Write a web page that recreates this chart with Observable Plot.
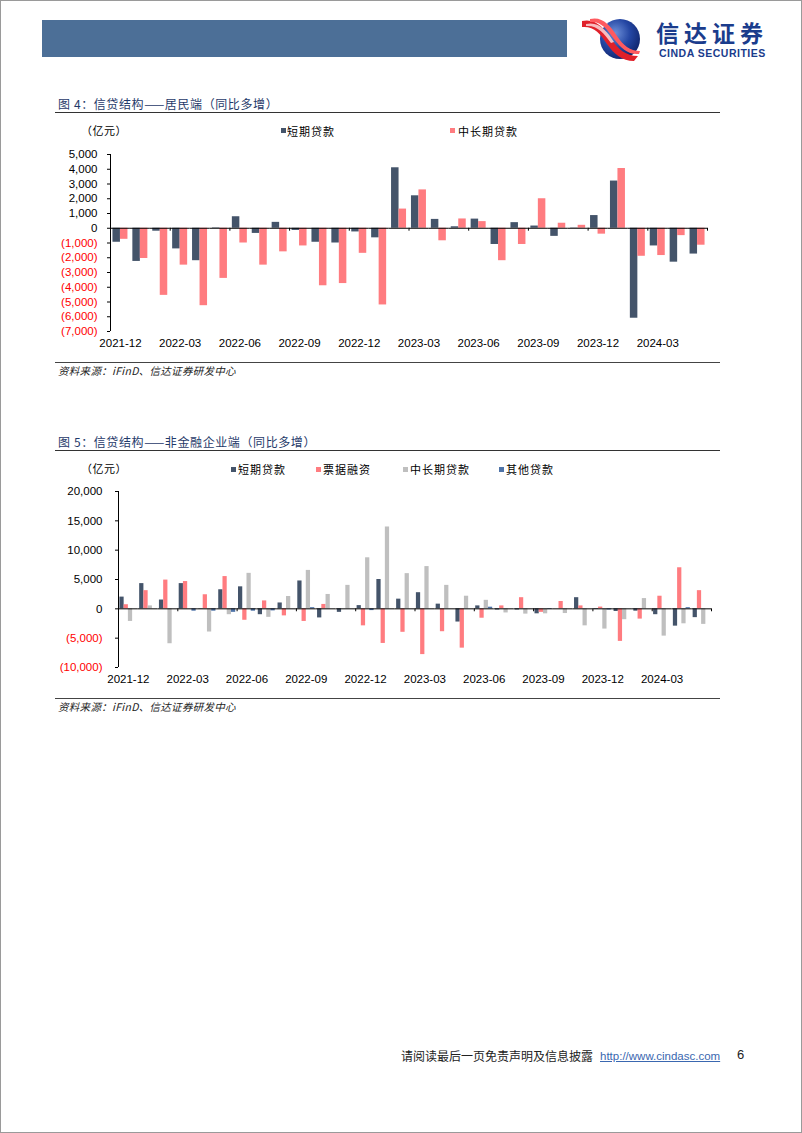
<!DOCTYPE html>
<html>
<head>
<meta charset="utf-8">
<script src="https://cdn.jsdelivr.net/npm/d3@7"></script>
<script src="https://cdn.jsdelivr.net/npm/@observablehq/plot@0.6"></script>
<style>
  body { margin: 0; background: #fff; }
  #page { position: relative; width: 802px; height: 1133px; overflow: hidden; background: #fff;
          font-family: "Noto Sans CJK SC", sans-serif; color: #000; }
  .abs { position: absolute; white-space: nowrap; }
  .title { font-size: 12px; color: #1f3a6a; line-height: 16px; letter-spacing: 0.6px; }
  .rule { position: absolute; border-top: 1.5px solid #333; height: 0; }
  .rule-thin { position: absolute; border-top: 1px solid #444; height: 0; }
  .unit { font-size: 11px; line-height: 14px; letter-spacing: 0.5px; }
  .leg { font-size: 11px; line-height: 14px; letter-spacing: 1px; }
  .sq { position: absolute; width: 5px; height: 5px; }
  .src { font-size: 10.5px; line-height: 14px; font-style: italic; color: #222; letter-spacing: 0.3px; }
  .chart { position: absolute; left: 0; }
  #border { position: absolute; left: 0; top: 0; width: 802px; height: 1133px; box-sizing: border-box;
            border: 1px solid #9a9a9a; pointer-events: none; }
</style>
</head>
<body>
<div id="page">
  <!-- header -->
  <div class="abs" style="left:42px;top:20px;width:525px;height:37px;background:#4c6f97;"></div>
  <svg class="abs" style="left:578px;top:16px;" width="68" height="46" viewBox="0 0 68 46">
    <defs>
      <radialGradient id="gsphere" cx="0.38" cy="0.35" r="0.75">
        <stop offset="0" stop-color="#6d8fd8"/>
        <stop offset="0.5" stop-color="#2446a3"/>
        <stop offset="1" stop-color="#0c1f62"/>
      </radialGradient>
    </defs>
    <circle cx="42" cy="23" r="20" fill="url(#gsphere)"/>
    <path d="M4,5 C18,2 26,12 34,24 C40,33 48,40 60,40 L56,45 C44,45 36,38 29,28 C22,17 16,10 4,11 Z" fill="#e0202a"/>
    <path d="M12,3 C24,0 32,9 39,20 C45,29 52,35 62,35 L61,38 C50,39 43,32 36,23 C29,13 23,5 12,6 Z" fill="#ff5a5f"/>
    <path d="M8,8 C21,5 29,15 36,26 L33,27 C26,17 19,9 8,10 Z" fill="#ffffff" opacity="0.7"/>
  </svg>
  <div class="abs" style="left:656px;top:21px;font-size:23px;font-weight:bold;color:#1a3c8c;letter-spacing:5px;line-height:22px;">信达证券</div>
  <div class="abs" style="left:659px;top:48px;font-family:'Liberation Sans',Arial,sans-serif;font-size:10.5px;font-weight:bold;color:#1a3c8c;line-height:10px;letter-spacing:0.5px;">CINDA SECURITIES</div>

  <!-- chart 1 texts -->
  <div class="abs title" style="left:58px;top:96px;">图 4：信贷结构——居民端（同比多增）</div>
  <div class="rule" style="left:55px;top:112px;width:665px;"></div>
  <div class="abs unit" style="left:81px;top:123px;">（亿元）</div>
  <div id="leg1"></div>
  <div id="chart1" class="chart" style="top:140px;"></div>
  <div class="rule-thin" style="left:55px;top:362px;width:665px;"></div>
  <div class="abs src" style="left:58px;top:364px;">资料来源：iFinD、信达证券研发中心</div>

  <!-- chart 2 texts -->
  <div class="abs title" style="left:58px;top:434px;">图 5：信贷结构——非金融企业端（同比多增）</div>
  <div class="rule" style="left:55px;top:450px;width:665px;"></div>
  <div class="abs unit" style="left:81px;top:461px;">（亿元）</div>
  <div id="leg2"></div>
  <div id="chart2" class="chart" style="top:478px;"></div>
  <div class="rule-thin" style="left:55px;top:698px;width:665px;"></div>
  <div class="abs src" style="left:58px;top:700px;">资料来源：iFinD、信达证券研发中心</div>

  <!-- footer -->
  <div class="abs" style="left:401px;top:1048px;font-size:12px;line-height:16px;color:#222;">请阅读最后一页免责声明及信息披露</div>
  <div class="abs" style="left:600px;top:1048px;font-family:'Liberation Sans',Arial,sans-serif;font-size:11.5px;line-height:16px;color:#3a67b0;text-decoration:underline;">http://www.cindasc.com</div>
  <div class="abs" style="left:737px;top:1047px;font-family:'Liberation Sans',Arial,sans-serif;font-size:13px;line-height:16px;color:#222;">6</div>
  <div id="border"></div>
</div>

<script>
// ---------------- data ----------------
const months = [
  "2021-12","2022-01","2022-02","2022-03","2022-04","2022-05","2022-06","2022-07","2022-08","2022-09",
  "2022-10","2022-11","2022-12","2023-01","2023-02","2023-03","2023-04","2023-05","2023-06","2023-07",
  "2023-08","2023-09","2023-10","2023-11","2023-12","2024-01","2024-02","2024-03","2024-04","2024-05"
];
const labelMonths = ["2021-12","2022-03","2022-06","2022-09","2022-12","2023-03","2023-06","2023-09","2023-12","2024-03"];

// 图4 居民端（亿元）
const series1 = ["短期贷款", "中长期贷款"];
const hhShort = [-950,-2250,-200,-1400,-2200,30,780,-350,400,-150,
                 -950,-1000,-250,-650,4100,2200,600,100,620,-1100,
                 380,150,-550,20,860,3200,-6100,-1200,-2300,-1750];
const hhLong  = [-750,-2050,-4550,-2500,-5250,-3400,-1000,-2500,-1600,-1200,
                 -3900,-3750,-1700,-5200,1300,2600,-850,630,450,-2200,
                 -1100,2000,340,200,-400,4050,-1900,-1850,-500,-1150];
const colors1 = ["#44546a", "#ff7c80"];
const yTicks1 = [5000,4000,3000,2000,1000,0,-1000,-2000,-3000,-4000,-5000,-6000,-7000];

// 图5 非金融企业端（亿元）
const series2 = ["短期贷款", "票据融资", "中长期贷款", "其他贷款"];
const corpShort = [2000,4300,1500,4300,50,3250,3750,-1000,1000,4750,
                   -1550,-600,550,5000,1650,2750,800,-2250,500,-200,
                   -200,-850,0,1900,-100,-450,-400,-1000,-2950,-1500];
const corpBill  = [700,3100,4900,4650,2400,5500,-1950,1350,-1200,-2150,
                   750,0,-2900,-5900,-4000,-7800,-3900,-6700,-1600,500,
                   1900,-600,1250,500,300,-5550,-1750,2150,7000,3100];
const corpLong  = [-2150,500,-5950,0,-3950,-1000,6050,-1450,2100,6550,
                   2450,4000,8700,13950,6000,7200,4000,2150,1450,-700,
                   -900,-850,-800,-2900,-3450,-1850,1750,-4650,-2550,-2650];
const corpOther = [0,0,0,-400,-400,-600,-400,-350,0,200,
                   0,0,-300,0,0,0,0,0,280,0,
                   0,-100,0,0,-200,0,0,0,200,0];
const colors2 = ["#44546a", "#ff7c80", "#bfbfbf", "#4e73a8"];
const yTicks2 = [20000,15000,10000,5000,0,-5000,-10000];

// ---------------- helpers ----------------
const fmtNum = d => d < 0 ? "(" + d3.format(",")(-d) + ")" : d3.format(",")(d);

function legend(el, series, colors, items) {
  const host = document.getElementById(el);
  series.forEach((s, i) => {
    const it = items[i];
    const sq = document.createElement("div");
    sq.className = "sq";
    sq.style.left = it.sx + "px"; sq.style.top = (it.cy - 2.5) + "px"; sq.style.background = colors[i];
    host.appendChild(sq);
    const t = document.createElement("div");
    t.className = "abs leg";
    t.style.left = it.tx + "px"; t.style.top = (it.cy - 7) + "px";
    t.textContent = s;
    host.appendChild(t);
  });
}

function groupedChart(opts) {
  const {series, values, colors, yDomain, yTicks, width, height,
         marginLeft, marginRight, marginTop, marginBottom, padOuter, tickLen} = opts;
  const data = [];
  months.forEach((m, i) => series.forEach((s, j) => data.push({month: m, series: s, value: values[j][i]})));
  const boundaryMonths = months.filter((m, i) => i % 3 === 0 && i > 0);
  // offset from first bar centre to left edge of its category (derived from band layout)
  const catW = (width - marginLeft - marginRight) / months.length;
  const step = catW / (series.length + 2 * padOuter);
  const toLeftEdge = -(padOuter + 0.5) * step;
  const toRightEdge = catW + toLeftEdge;
  const pos = yTicks.filter(d => d >= 0);
  const neg = yTicks.filter(d => d < 0);
  return Plot.plot({
    width, height, marginLeft, marginRight, marginTop, marginBottom,
    style: {fontFamily: "'Liberation Sans', Arial, sans-serif", fontSize: "11.5px", color: "#000", background: "transparent", overflow: "visible"},
    fx: {domain: months, padding: 0, round: false, label: null,
         tickFormat: d => labelMonths.includes(d) ? d : "", tickSize: 0, tickPadding: opts.xPad},
    x: {domain: series, paddingInner: 0, paddingOuter: padOuter, round: false, axis: null},
    y: {domain: yDomain, axis: null},
    color: {domain: series, range: colors},
    marks: [
      Plot.barY(data, {fx: "month", x: "series", y: "value", fill: "series"}),
      Plot.ruleY([0], {stroke: "#000", strokeWidth: 1}),
      Plot.ruleX(boundaryMonths, {fx: d => d, x: () => series[0], dx: toLeftEdge, y1: 0, y2: -tickLen, stroke: "#000"}),
      Plot.ruleX([months[months.length - 1]], {fx: d => d, x: () => series[0], dx: toRightEdge, y1: 0, y2: -tickLen, stroke: "#000"}),
      Plot.ruleX([months[0]], {fx: d => d, x: () => series[0], dx: toLeftEdge, y1: yDomain[0], y2: yDomain[1], stroke: "#000"}),
      Plot.axisY(pos, {anchor: "left", tickFormat: fmtNum, tickSize: 3, tickPadding: opts.tickPad, fill: "#000", stroke: "#000", label: null}),
      Plot.axisY(neg, {anchor: "left", tickFormat: fmtNum, tickSize: 3, tickPadding: opts.tickPad, fill: "#ff0000", stroke: "#000", label: null})
    ]
  });
}

// ---------------- chart 1 ----------------
legend("leg1", series1, colors1, [
  {sx: 281, tx: 287, cy: 130.5},
  {sx: 450, tx: 458, cy: 130.5}
]);
document.getElementById("chart1").appendChild(groupedChart({
  series: series1, values: [hhShort, hhLong], colors: colors1,
  yDomain: [-7000, 5000], yTicks: yTicks1,
  width: 802, height: 215, marginLeft: 110, marginRight: 95, marginTop: 14, marginBottom: 24,
  padOuter: 0.327, tickLen: 200, tickPad: 10, xPad: 7
}));

// ---------------- chart 2 ----------------
legend("leg2", series2, colors2, [
  {sx: 231, tx: 238, cy: 469},
  {sx: 316, tx: 323, cy: 469},
  {sx: 403, tx: 410, cy: 469},
  {sx: 499, tx: 506, cy: 469}
]);
document.getElementById("chart2").appendChild(groupedChart({
  series: series2, values: [corpShort, corpBill, corpLong, corpOther], colors: colors2,
  yDomain: [-10000, 20000], yTicks: yTicks2,
  width: 802, height: 215, marginLeft: 118, marginRight: 91, marginTop: 13, marginBottom: 26,
  padOuter: 0.33, tickLen: 500, tickPad: 13, xPad: 7
}));
</script>
</body>
</html>
